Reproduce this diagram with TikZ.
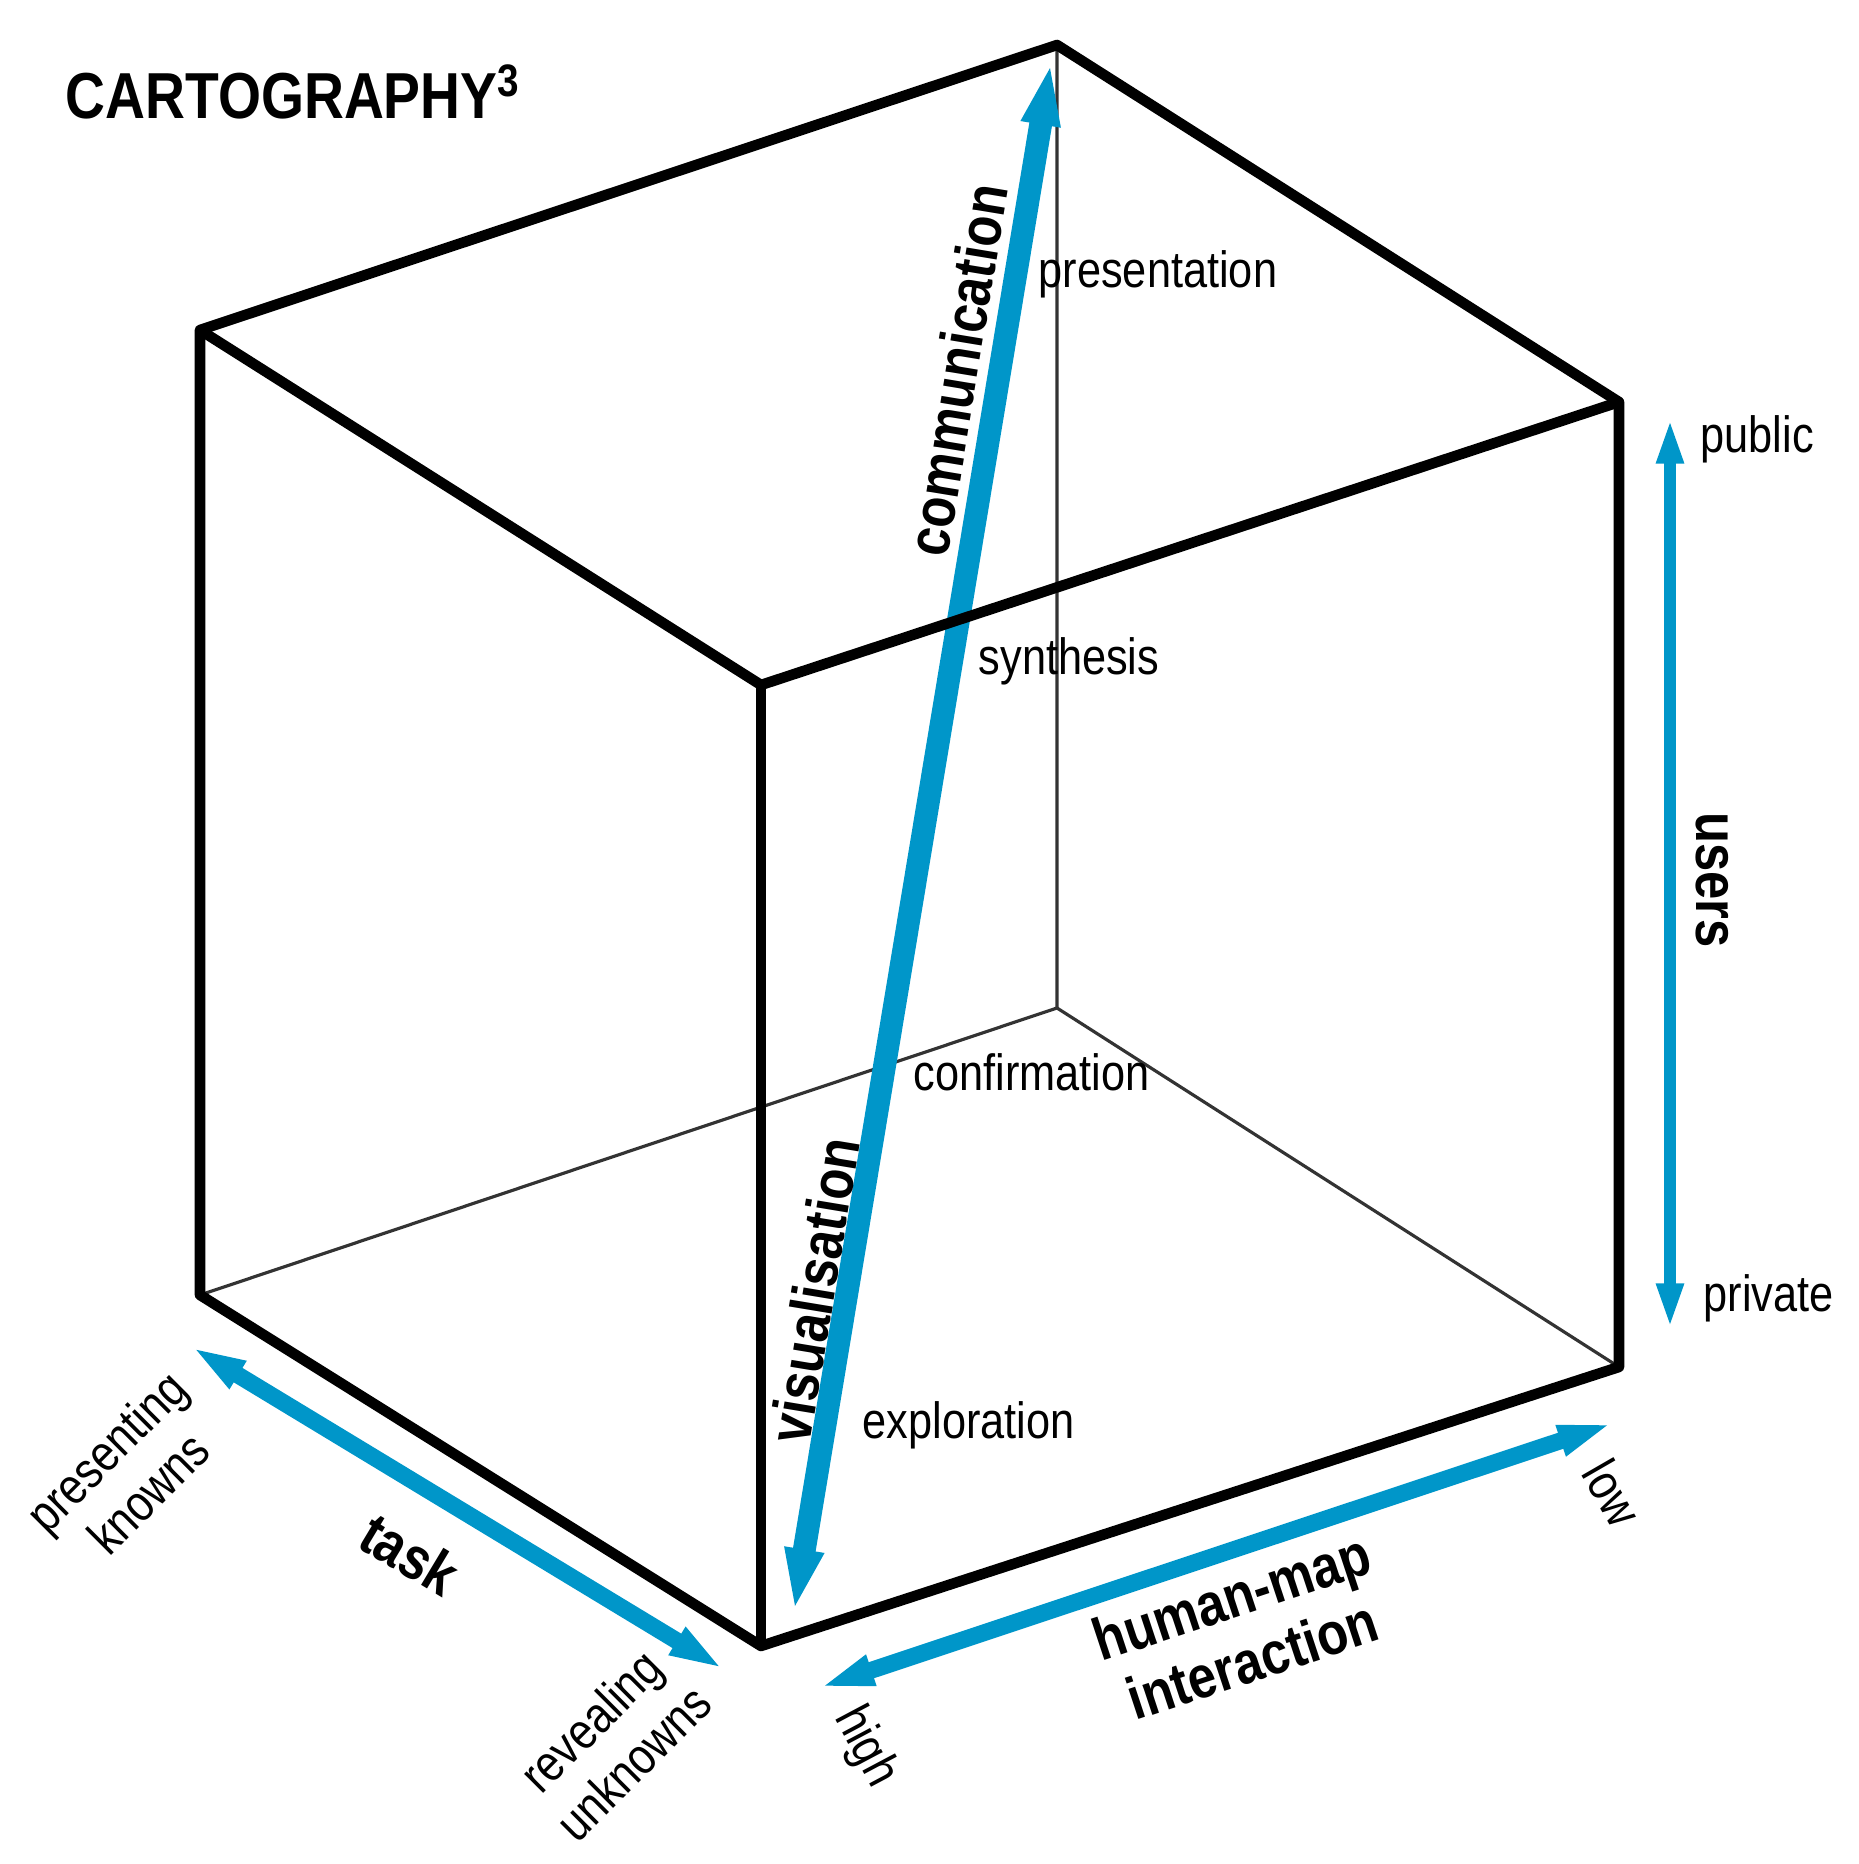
\documentclass[tikz,border=0pt]{standalone}
\usepackage{fontspec}
\setmainfont{Liberation Sans}[FakeStretch=0.85]
\usetikzlibrary{arrows.meta}
\definecolor{axisblue}{RGB}{0,150,201}

\begin{document}
\begin{tikzpicture}[>={Triangle[length=16pt,width=8pt]},
  cubeedge/.style={line width=3pt, line join=round},
  hiddenedge/.style={line width=0.9pt, black!80},
  bluearrow/.style={<->, axisblue, line width=4.8pt},
  lbl/.style={font=\fontsize{14.5}{17}\selectfont, inner sep=0pt, align=center},
  axislbl/.style={font=\bfseries\fontsize{17}{19}\selectfont, inner sep=0pt, align=center}]
  \useasboundingbox (0,0) rectangle (18.58,18.64);

  % corners of the cube
  \coordinate (TL) at (2.00,15.34);
  \coordinate (TB) at (10.57,18.19);
  \coordinate (TR) at (16.19,14.62);
  \coordinate (TF) at (7.61,11.79);
  \coordinate (BL) at (2.00,5.69);
  \coordinate (BB) at (10.57,8.56);
  \coordinate (BR) at (16.19,4.97);
  \coordinate (BF) at (7.61,2.18);

  % ends of the axes
  \coordinate (commtop) at (10.51,18.02);
  \coordinate (visbot) at (7.94,2.52);
  \coordinate (usertop) at (16.70,14.46);
  \coordinate (userbot) at (16.70,5.35);
  \coordinate (tasktop) at (1.90,5.18);
  \coordinate (taskbot) at (7.25,1.94);
  \coordinate (hmihigh) at (8.18,1.76);
  \coordinate (hmilow) at (16.14,4.41);

  \draw[hiddenedge] (TB) -- (BB) -- (BL);
  \draw[hiddenedge] (BB) -- (BR);

  \draw[bluearrow, line width=6.5pt, >={Triangle[length=18pt,width=10pt]}] (visbot) -- (commtop);
  \draw[bluearrow, line width=3.6pt, >={Triangle[length=13pt,width=7pt]}] (userbot) -- (usertop);
  \draw[bluearrow] (tasktop) -- (taskbot);
  \draw[bluearrow] (hmihigh) -- (hmilow);

  \draw[cubeedge] (TL) -- (TB) -- (TR) -- (BR) -- (BF) -- (BL) -- cycle;
  \draw[cubeedge] (TL) -- (TF) -- (TR);
  \draw[cubeedge] (TF) -- (BF);

  \node[anchor=base west, inner sep=0pt, font=\bfseries\fontsize{18.5}{20}\selectfont] (title) at (0.65,17.45) {CARTOGRAPHY\textsuperscript{3}};

  \node[lbl, anchor=base west] (presentation) at (10.38,15.76) {presentation};
  \node[lbl, anchor=base west] (synthesis) at (9.78,11.89) {synthesis};
  \node[lbl, anchor=base west] (confirmation) at (9.13,7.73) {confirmation};
  \node[lbl, anchor=base west] (exploration) at (8.62,4.25) {exploration};
  \node[lbl, anchor=base west] (public) at (17.00,14.11) {public};
  \node[lbl, anchor=base west] (private) at (17.03,5.52) {private};

  \node[axislbl, rotate=80.6] (communication) at (9.57,14.94) {communication};
  \node[axislbl, rotate=80.6] (visualisation) at (8.14,5.74) {visualisation};
  \node[axislbl, rotate=-90] (users) at (17.12,9.84) {users};
  \node[axislbl, rotate=-31] (task) at (4.10,3.10) {task};
  \node[axislbl, rotate=18.3] (hmi) at (12.42,2.36) {human-map\\interaction};

  \node[lbl, rotate=45] (knowns) at (1.27,3.92) {presenting\\knowns};
  \node[lbl, rotate=45] (unknowns) at (6.12,1.22) {revealing\\unknowns};
  \node[lbl, rotate=-62] (high) at (8.65,1.17) {high};
  \node[lbl, rotate=-60] (low) at (16.13,3.71) {low};
\end{tikzpicture}
\end{document}
